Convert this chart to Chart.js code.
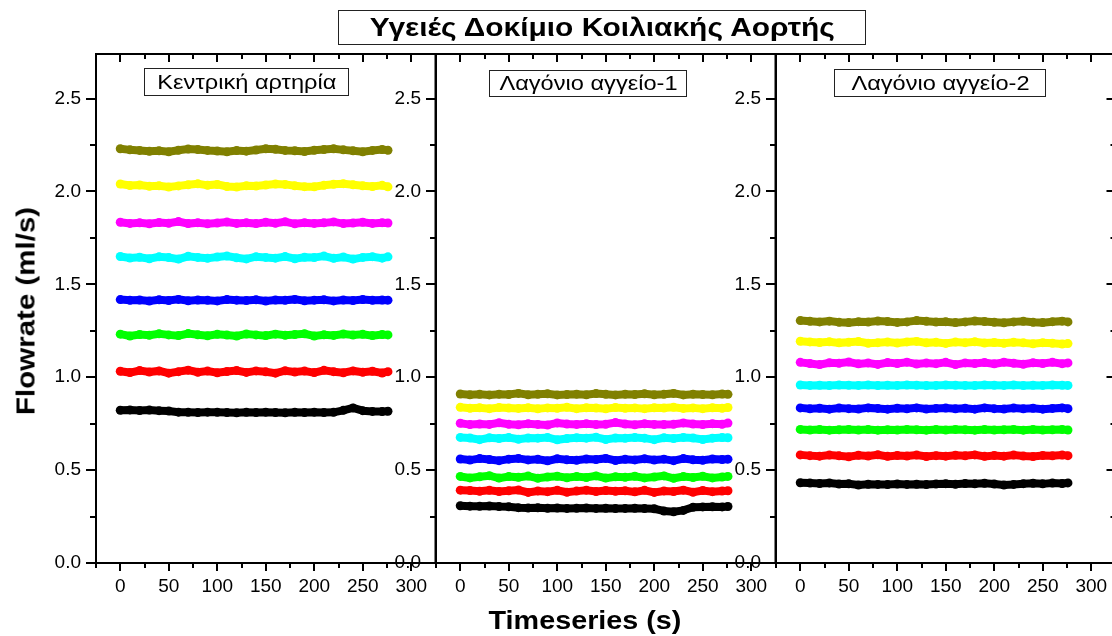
<!DOCTYPE html>
<html>
<head>
<meta charset="utf-8">
<script src="https://cdn.jsdelivr.net/npm/chart.js@4.4.1/dist/chart.umd.min.js"></script>
<style>
  html, body { margin: 0; padding: 0; background: #fff; overflow: hidden; }
  #wrap { position: relative; width: 1112px; height: 636px; overflow: hidden;
          font-family: "Liberation Sans", Arial, sans-serif; color: #000; }
  canvas { position: absolute; top: 0; }
  .box { position: absolute; border: 1.5px solid #222; box-sizing: border-box;
         display: flex; align-items: center; justify-content: center; white-space: nowrap; }
  .box span { display: inline-block; }
  .title { font-weight: bold; font-size: 26px; }
  .title span { transform: scaleX(1.15); }
  .panel { font-size: 20px; }
  .panel span { transform: scaleX(1.18); }
  .axis-title { position: absolute; font-weight: bold; font-size: 25px; white-space: nowrap; }
</style>
</head>
<body>
<div id="wrap">
  <canvas id="p1" width="404" height="600" style="left:36px"></canvas>
  <canvas id="p2" width="404" height="600" style="left:376px"></canvas>
  <canvas id="p3" width="404" height="600" style="left:716px"></canvas>

  <div class="box title" style="left:338px;top:10px;width:528px;height:35px"><span>Υγειές Δοκίμιο Κοιλιακής Αορτής</span></div>
  <div class="box panel" style="left:144px;top:68px;width:205px;height:28px"><span>Κεντρική αρτηρία</span></div>
  <div class="box panel" style="left:489px;top:70px;width:198px;height:27px"><span>Λαγόνιο αγγείο-1</span></div>
  <div class="box panel" style="left:834px;top:69px;width:212px;height:28px"><span>Λαγόνιο αγγείο-2</span></div>

  <div class="axis-title" style="left:26px;top:311px;transform:translate(-50%,-50%) rotate(-90deg) scaleX(1.18)">Flowrate (ml/s)</div>
  <div class="axis-title" style="left:585px;top:620px;transform:translate(-50%,-50%) scaleX(1.15)">Timeseries (s)</div>
</div>

<script>
  // sampling times (s)
  const TIMES = [0, 10, 20, 30, 40, 50, 60, 70, 80, 90, 100, 110, 120, 130, 140,
                 150, 160, 170, 180, 190, 200, 210, 220, 230, 240, 250, 260, 270, 276];

  const SERIES_COLORS = ["#000000", "#ff0000", "#00ff00", "#0000ff",
                         "#00ffff", "#ff00ff", "#ffff00", "#808000"];

  // Κεντρική αρτηρία (ml/s)
  const aorta_black   = [0.822,0.824,0.821,0.823,0.820,0.818,0.812,0.811,0.810,0.812,0.811,0.810,0.809,0.811,0.810,0.812,0.810,0.809,0.811,0.810,0.812,0.810,0.811,0.822,0.835,0.820,0.816,0.815,0.817];
  const aorta_red     = [1.032,1.025,1.036,1.028,1.034,1.022,1.030,1.038,1.027,1.033,1.024,1.031,1.036,1.026,1.034,1.029,1.022,1.035,1.028,1.033,1.025,1.037,1.030,1.024,1.034,1.027,1.032,1.023,1.030];
  const aorta_green   = [1.232,1.222,1.230,1.226,1.234,1.228,1.224,1.235,1.229,1.223,1.231,1.227,1.222,1.233,1.228,1.224,1.232,1.226,1.230,1.234,1.222,1.229,1.225,1.233,1.227,1.231,1.224,1.230,1.228];
  const aorta_blue    = [1.418,1.414,1.416,1.410,1.417,1.413,1.419,1.412,1.416,1.414,1.411,1.418,1.415,1.413,1.417,1.410,1.416,1.414,1.419,1.412,1.415,1.417,1.411,1.416,1.413,1.418,1.414,1.416,1.415];
  const aorta_cyan    = [1.650,1.642,1.646,1.638,1.648,1.644,1.636,1.651,1.645,1.640,1.647,1.652,1.643,1.637,1.649,1.645,1.641,1.650,1.638,1.646,1.644,1.652,1.640,1.647,1.636,1.645,1.649,1.641,1.648];
  const aorta_magenta = [1.834,1.828,1.831,1.826,1.833,1.829,1.838,1.827,1.832,1.826,1.830,1.835,1.828,1.831,1.827,1.834,1.829,1.837,1.826,1.832,1.828,1.831,1.836,1.827,1.830,1.834,1.828,1.832,1.830];
  const aorta_yellow  = [2.040,2.032,2.035,2.028,2.031,2.024,2.030,2.036,2.041,2.033,2.038,2.027,2.024,2.031,2.029,2.035,2.040,2.038,2.031,2.026,2.025,2.033,2.039,2.042,2.036,2.031,2.027,2.033,2.025];
  const aorta_olive   = [2.230,2.224,2.221,2.216,2.219,2.214,2.222,2.228,2.226,2.221,2.218,2.214,2.220,2.217,2.223,2.230,2.227,2.221,2.219,2.215,2.222,2.226,2.230,2.224,2.219,2.214,2.221,2.226,2.222];

  // Λαγόνιο αγγείο-1 (ml/s)
  const iliac1_black   = [0.308,0.306,0.305,0.307,0.304,0.303,0.298,0.296,0.297,0.295,0.296,0.294,0.295,0.296,0.294,0.295,0.293,0.294,0.295,0.293,0.292,0.280,0.276,0.283,0.300,0.302,0.303,0.302,0.304];
  const iliac1_red     = [0.392,0.390,0.386,0.391,0.385,0.389,0.393,0.380,0.388,0.384,0.391,0.381,0.387,0.392,0.385,0.390,0.386,0.389,0.383,0.391,0.380,0.388,0.385,0.392,0.381,0.390,0.384,0.387,0.389];
  const iliac1_green   = [0.466,0.458,0.464,0.470,0.457,0.465,0.461,0.468,0.456,0.463,0.467,0.459,0.465,0.460,0.469,0.457,0.464,0.461,0.467,0.458,0.463,0.469,0.456,0.465,0.460,0.467,0.458,0.463,0.466];
  const iliac1_blue    = [0.560,0.554,0.562,0.557,0.551,0.559,0.563,0.555,0.558,0.550,0.561,0.556,0.553,0.560,0.557,0.563,0.552,0.558,0.555,0.561,0.554,0.559,0.551,0.562,0.556,0.553,0.560,0.557,0.559];
  const iliac1_cyan    = [0.676,0.673,0.664,0.674,0.670,0.675,0.666,0.673,0.672,0.676,0.663,0.670,0.674,0.672,0.677,0.665,0.673,0.671,0.675,0.672,0.664,0.674,0.670,0.676,0.673,0.665,0.672,0.675,0.674];
  const iliac1_magenta = [0.752,0.745,0.748,0.746,0.755,0.747,0.744,0.749,0.746,0.743,0.754,0.748,0.746,0.750,0.745,0.747,0.756,0.748,0.744,0.749,0.746,0.745,0.747,0.754,0.748,0.745,0.750,0.747,0.753];
  const iliac1_yellow  = [0.838,0.833,0.836,0.831,0.837,0.834,0.832,0.836,0.830,0.835,0.833,0.838,0.831,0.836,0.834,0.830,0.837,0.833,0.835,0.831,0.836,0.834,0.838,0.832,0.835,0.831,0.836,0.833,0.837];
  const iliac1_olive   = [0.910,0.906,0.908,0.905,0.909,0.907,0.913,0.906,0.908,0.911,0.905,0.907,0.909,0.906,0.912,0.908,0.905,0.909,0.907,0.911,0.906,0.908,0.913,0.905,0.909,0.907,0.906,0.910,0.908];

  // Λαγόνιο αγγείο-2 (ml/s)
  const iliac2_black   = [0.432,0.430,0.428,0.431,0.425,0.426,0.420,0.424,0.423,0.422,0.425,0.423,0.424,0.422,0.425,0.427,0.424,0.428,0.426,0.429,0.425,0.420,0.423,0.427,0.429,0.426,0.430,0.428,0.431];
  const iliac2_red     = [0.582,0.578,0.575,0.581,0.577,0.572,0.580,0.576,0.583,0.574,0.579,0.576,0.581,0.573,0.578,0.575,0.580,0.577,0.582,0.574,0.579,0.575,0.581,0.576,0.573,0.579,0.577,0.581,0.578];
  const iliac2_green   = [0.719,0.716,0.718,0.715,0.717,0.719,0.716,0.718,0.715,0.717,0.716,0.719,0.717,0.715,0.718,0.716,0.719,0.717,0.715,0.718,0.716,0.717,0.719,0.715,0.718,0.716,0.717,0.719,0.716];
  const iliac2_blue    = [0.835,0.830,0.833,0.828,0.834,0.831,0.829,0.835,0.832,0.828,0.833,0.830,0.835,0.829,0.832,0.834,0.830,0.833,0.828,0.835,0.831,0.829,0.834,0.830,0.833,0.828,0.832,0.835,0.831];
  const iliac2_cyan    = [0.958,0.956,0.957,0.955,0.958,0.957,0.956,0.958,0.955,0.957,0.956,0.958,0.957,0.955,0.956,0.958,0.957,0.956,0.955,0.958,0.957,0.956,0.958,0.955,0.957,0.956,0.958,0.957,0.956];
  const iliac2_magenta = [1.080,1.074,1.068,1.078,1.075,1.082,1.072,1.077,1.069,1.079,1.074,1.081,1.071,1.076,1.073,1.080,1.068,1.077,1.074,1.079,1.072,1.081,1.075,1.070,1.078,1.074,1.080,1.073,1.077];
  const iliac2_yellow  = [1.194,1.190,1.187,1.191,1.185,1.188,1.192,1.183,1.186,1.189,1.184,1.190,1.193,1.185,1.188,1.182,1.189,1.186,1.191,1.184,1.187,1.183,1.188,1.185,1.180,1.186,1.183,1.179,1.181];
  const iliac2_olive   = [1.305,1.301,1.298,1.302,1.296,1.294,1.299,1.297,1.303,1.300,1.295,1.298,1.305,1.301,1.297,1.299,1.294,1.298,1.303,1.300,1.296,1.293,1.298,1.301,1.296,1.294,1.299,1.302,1.298];

  const X_TICK_LABELS = [0, 50, 100, 150, 200, 250, 300];
  const Y_TICK_LABELS = [0.0, 0.5, 1.0, 1.5, 2.0, 2.5];

  Chart.defaults.font.family = '"Liberation Sans", Arial, sans-serif';
  Chart.defaults.color = "#000";

  const isOn = (v, list) => list.some((l) => Math.abs(l - v) < 1e-6);

  // frame on four sides; ticks point out on left/bottom, in on top/right
  const frameTicks = {
    id: "frameTicks",
    afterDraw(chart) {
      const { ctx, chartArea: a, scales: { x, y } } = chart;
      ctx.save();
      ctx.strokeStyle = "#000";
      ctx.lineWidth = 2;
      ctx.beginPath();
      x.ticks.forEach((t) => {
        const px = Math.round(x.getPixelForValue(t.value));
        const len = isOn(t.value, X_TICK_LABELS) ? 8 : 5;
        ctx.moveTo(px, a.bottom); ctx.lineTo(px, a.bottom + len);
        ctx.moveTo(px, a.top); ctx.lineTo(px, a.top + len);
      });
      y.ticks.forEach((t) => {
        if (t.value > 2.5 + 1e-6) return;
        const py = Math.round(y.getPixelForValue(t.value));
        const major = isOn(t.value, Y_TICK_LABELS);
        ctx.moveTo(a.left, py); ctx.lineTo(a.left - (major ? 10 : 6), py);
        ctx.moveTo(a.right, py); ctx.lineTo(a.right - (major ? 9 : 5), py);
      });
      ctx.stroke();
      ctx.strokeRect(a.left, a.top, a.right - a.left, a.bottom - a.top);
      ctx.restore();
    },
  };

  function panel(canvasId, seriesList) {
    const el = document.getElementById(canvasId);
    if (!el || typeof Chart === "undefined") return;
    new Chart(el, {
      type: "line",
      data: {
        datasets: seriesList.map((vals, i) => ({
          data: vals.map((v, k) => ({ x: TIMES[k], y: v })),
          borderColor: SERIES_COLORS[i],
          backgroundColor: SERIES_COLORS[i],
          borderWidth: 8,
          pointRadius: 4.5,
          pointBorderWidth: 0,
          tension: 0,
        })),
      },
      options: {
        responsive: false,
        animation: false,
        layout: { padding: { top: 54, right: 4, bottom: 0, left: 0 } },
        plugins: { legend: { display: false }, tooltip: { enabled: false } },
        scales: {
          x: {
            type: "linear", min: -25, max: 325,
            afterFit: (s) => { s.height = 37; s.paddingLeft = 0; s.paddingRight = 0; },
            grid: { display: false, drawTicks: false },
            border: { display: false },
            ticks: {
              stepSize: 25, padding: 12, autoSkip: false, maxRotation: 0,
              font: { size: 19 },
              callback: (v) => (isOn(v, X_TICK_LABELS) ? String(v) : ""),
            },
          },
          y: {
            min: 0, max: 2.74,
            afterFit: (s) => { s.width = 60; s.paddingTop = 0; s.paddingBottom = 0; },
            grid: { display: false, drawTicks: false },
            border: { display: false },
            ticks: {
              stepSize: 0.25, padding: 15, autoSkip: false,
              font: { size: 19 },
              callback: (v) => (isOn(v, Y_TICK_LABELS) ? v.toFixed(1) : ""),
            },
          },
        },
      },
      plugins: [frameTicks],
    });
  }

  panel("p1", [aorta_black, aorta_red, aorta_green, aorta_blue, aorta_cyan, aorta_magenta, aorta_yellow, aorta_olive]);
  panel("p2", [iliac1_black, iliac1_red, iliac1_green, iliac1_blue, iliac1_cyan, iliac1_magenta, iliac1_yellow, iliac1_olive]);
  panel("p3", [iliac2_black, iliac2_red, iliac2_green, iliac2_blue, iliac2_cyan, iliac2_magenta, iliac2_yellow, iliac2_olive]);
</script>
</body>
</html>
